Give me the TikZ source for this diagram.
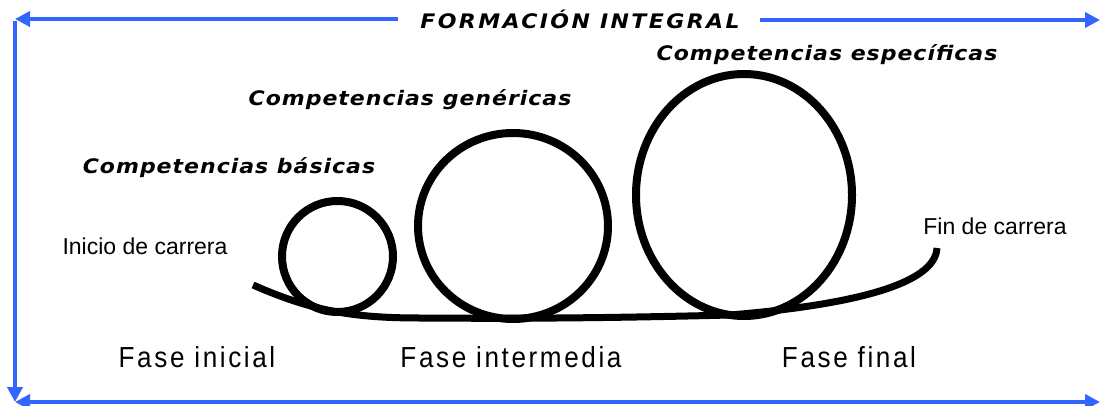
\documentclass[tikz,border=0pt]{standalone}
\usepackage{fontspec}
\usetikzlibrary{arrows.meta}
\newfontfamily\headfont[FakeStretch=1.1,LetterSpace=5]{DejaVu Sans}
\newfontfamily\titlefont[FakeStretch=1.1,LetterSpace=12]{DejaVu Sans}
\newfontfamily\armfont{Liberation Sans}
\newfontfamily\phasefont[FakeStretch=0.9,LetterSpace=9]{Liberation Sans}
\definecolor{fblue}{RGB}{51,102,255}
\tikzset{
  frame/.style={draw=fblue, line width=4.5pt, -{Triangle[length=15pt,width=15pt]}},
  ring/.style={draw=black, line width=8pt},
  path line/.style={draw=black, line width=7pt},
  heading/.style={inner sep=0pt, font=\headfont\bfseries\itshape\fontsize{20}{22}\selectfont},
  title/.style={inner sep=0pt, font=\titlefont\bfseries\itshape\fontsize{20}{22}\selectfont},
  endlabel/.style={inner sep=0pt, font=\armfont\fontsize{23}{25}\selectfont},
  phase/.style={inner sep=0pt, font=\phasefont\fontsize{29}{31}\selectfont},
}
\begin{document}
\begin{tikzpicture}[x=1pt,y=-1pt]
\useasboundingbox (0,0) rectangle (1102,406);
% frame coordinates
\coordinate (tlstart) at (398,19);
\coordinate (tl) at (15,19);
\coordinate (trstart) at (760,20);
\coordinate (tr) at (1100,20);
\coordinate (ltop) at (15,21);
\coordinate (bl) at (15,402);
\coordinate (br) at (1100,402);
\draw[frame] (tlstart) -- (tl);
\draw[frame] (trstart) -- (tr);
\draw[frame] (ltop) -- (bl);
\draw[frame, {Triangle[length=15pt,width=15pt]}-{Triangle[length=15pt,width=15pt]}] (bl) -- (br);
% title
\node[title] (formacion) at (580,19) {FORMACIÓN INTEGRAL};
% rings
\draw[ring] (337.5,256.5) circle [radius=55.5];
\draw[ring] (513,226) ellipse [x radius=95, y radius=93];
\draw[ring] (744,195) ellipse [x radius=108, y radius=121];
% career path
\draw[path line] (253,285) .. controls (310,310) and (350,318) .. (420,318)
  .. controls (550,319) and (650,317) .. (730,315)
  .. controls (850,305) and (935,285) .. (937,248);
% headings
\node[heading] (basicas) at (229,168) {Competencias básicas};
\node[heading] (genericas) at (410,100) {Competencias genéricas};
\node[heading] (especificas) at (827,55) {Competencias específicas};
% ends
\node[endlabel] (inicio) at (145,246) {Inicio de carrera};
\node[endlabel] (fin) at (995,226) {Fin de carrera};
% phases
\node[phase] (fase1) at (197,357) {Fase inicial};
\node[phase] (fase2) at (511,357) {Fase intermedia};
\node[phase] (fase3) at (849,357) {Fase final};
\end{tikzpicture}
\end{document}
